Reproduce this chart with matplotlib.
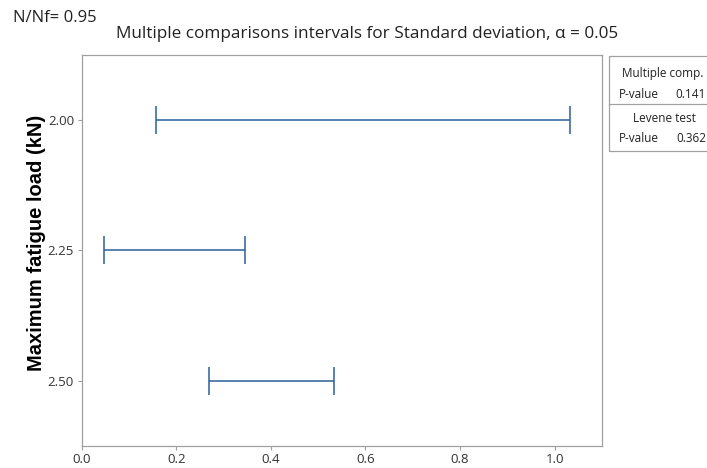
import matplotlib.pyplot as plt
from matplotlib.patches import Rectangle
from matplotlib.lines import Line2D

# interval data
loads = [2.00, 2.25, 2.50]
lower = [0.158, 0.048, 0.269]
upper = [1.032, 0.345, 0.533]
load_labels = ["2.00", "2.25", "2.50"]
x_ticks = [0.0, 0.2, 0.4, 0.6, 0.8, 1.0]
mc_pvalue = "0.141"
levene_pvalue = "0.362"

plt.rcParams['font.family'] = ['Open Sans', 'DejaVu Sans']
blue = '#2a5f99'
gray = '#a0a0a0'
txt = '#222222'

W, H = 707.0, 468.0
def fx(px):
    return px / W
def fy(py):
    return 1 - py / H

fig = plt.figure(figsize=(7.07, 4.68), dpi=100)
ax = fig.add_axes([fx(81.7), fy(445.7), fx(602) - fx(81.7), fy(55) - fy(445.7)])

for y, lo, hi in zip(loads, lower, upper):
    mid = (lo + hi) / 2
    ax.errorbar(mid, y, xerr=[[mid - lo], [hi - mid]], fmt='none',
                ecolor=blue, elinewidth=1.1, capsize=10, capthick=1.1)

ax.set_xlim(0, 1.1)
ax.set_ylim(2.625, 1.875)
ax.set_yticks(loads)
ax.set_yticklabels(load_labels)
ax.set_xticks(x_ticks)
ax.set_xticklabels(["%.1f" % v for v in x_ticks])
ax.tick_params(labelsize=9.5, colors='#333333', length=3, color=gray, width=0.8, pad=2.5)
for s in ax.spines.values():
    s.set_color(gray)
    s.set_linewidth(0.9)

fig.text(fx(37), fy(243), "Maximum fatigue load (kN)", fontsize=14.5, fontweight='bold',
         rotation=90, ha='center', va='center', color='black',
         family=['Liberation Sans', 'DejaVu Sans'])

fig.text(fx(13), fy(18), "N/Nf= 0.95", fontsize=12, color=txt, va='center')
fig.text(fx(367.5), fy(34), "Multiple comparisons intervals for Standard deviation, \u03b1 = 0.05",
         fontsize=12.3, color=txt, ha='center', va='center')

# side table box
fig.patches.append(Rectangle((fx(609), fy(151)), fx(120), fy(55.7) - fy(151),
                             transform=fig.transFigure, fill=False,
                             edgecolor=gray, linewidth=0.9))
fig.lines.append(Line2D([fx(609), 1.0], [fy(104), fy(104)],
                        transform=fig.transFigure, color=gray, linewidth=0.9))
tfs = 8.5
fig.text(fx(663), fy(73), "Multiple comp.", fontsize=tfs, ha='center', va='center', color=txt)
fig.text(fx(619), fy(95), "P-value", fontsize=tfs, ha='left', va='center', color=txt)
fig.text(fx(706), fy(95), mc_pvalue, fontsize=tfs, ha='right', va='center', color=txt)
fig.text(fx(664), fy(118), "Levene test", fontsize=tfs, ha='center', va='center', color=txt)
fig.text(fx(619), fy(139), "P-value", fontsize=tfs, ha='left', va='center', color=txt)
fig.text(fx(706), fy(139), levene_pvalue, fontsize=tfs, ha='right', va='center', color=txt)

fig.savefig("out.png", dpi=100)
